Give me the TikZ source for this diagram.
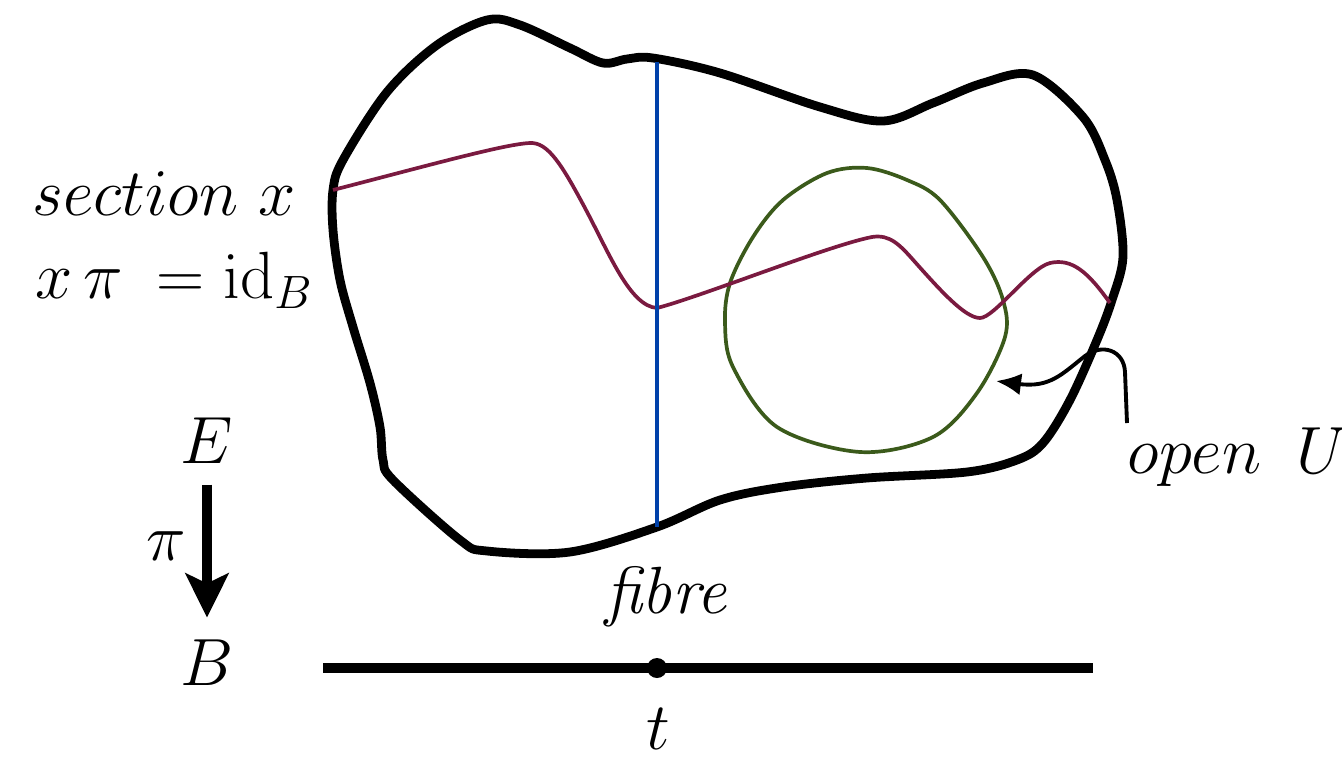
\RequirePackage{fix-cm}
\documentclass[tikz,border=0pt]{standalone}
\usetikzlibrary{arrows.meta}
\definecolor{sectcol}{RGB}{122,26,64}
\definecolor{fibcol}{RGB}{0,65,170}
\definecolor{opencol}{RGB}{59,90,27}
\begin{document}
\begin{tikzpicture}[x=0.01cm,y=-0.01cm,
  lbl/.style={font=\fontsize{19}{23}\selectfont, inner sep=0pt},
  blob/.style={line width=2.5pt, line join=round},
  sect/.style={sectcol, line width=1.05pt, line join=round},
  fib/.style={fibcol, line width=0.95pt},
  openset/.style={opencol, line width=1.05pt},
  base/.style={line width=2.85pt},
  piarr/.style={line width=2.85pt, -{Stealth[length=0.44cm, width=0.43cm, inset=0.1cm]}},
  uarr/.style={line width=1.1pt, -{Latex[length=0.25cm, width=0.22cm]}}]
\useasboundingbox (0,0) rectangle (1342,757);

% total space E
\draw[blob] plot[smooth cycle, tension=0.55] coordinates {
  (333,190) (343,160) (387,92) (437,45) (487,20) (520,25) (570,48) (603,63)
  (627,59) (653,58) (720,73) (820,107) (883,121) (933,103) (983,83)
  (1033,75) (1083,117) (1105,160) (1117,200) (1123,257) (1112,300)
  (1097,340) (1070,400) (1043,443) (1017,460) (967,472) (867,478)
  (783,487) (720,500) (657,527) (570,552) (487,551) (460,540) (393,480)
  (383,460) (380,427) (370,383) (353,327) (340,280) (333,230)};

% open set U
\draw[openset] plot[smooth cycle, tension=0.55] coordinates {
  (867,168) (827,173) (783,200) (753,237) (730,283) (725,323) (733,367)
  (777,427) (860,452) (933,437) (977,393) (1005,337) (1003,300)
  (983,257) (940,200) (907,180)};

% section
\coordinate (secstart) at (333,190);
\coordinate (secend) at (1110,303);
\draw[sect] (secstart) .. controls (430,165) and (505,144) .. (530,143)
  .. controls (548,142) and (562,165) .. (585,208)
  .. controls (610,255) and (630,306) .. (657,308)
  .. controls (700,297) and (830,245) .. (872,237)
  .. controls (890,234) and (900,245) .. (915,262)
  .. controls (940,290) and (965,318) .. (980,318)
  .. controls (994,318) and (1030,268) .. (1050,263)
  .. controls (1072,258) and (1088,272) .. (secend);

% fibre
\coordinate (fibtop) at (657,62);
\coordinate (fibbot) at (657,527);
\draw[fib] (fibtop) -- (fibbot);

% base B
\coordinate (b1) at (323,668);
\coordinate (b2) at (1093,668);
\draw[base] (b1) -- (b2);
\coordinate (tpt) at (657,668);
\fill (tpt) circle (10);

% labels
\node[lbl, anchor=base west] (seclbl) at (32,215) {$section\ x$};
\node[lbl, anchor=base west] (eqlbl) at (35,298) {$x\,\pi\:= \mathrm{id}_B$};
\node[lbl] (E) at (207,441) {$E$};
\node[lbl] (B) at (207,663) {$B$};
\node[lbl] (pilbl) at (166,546) {$\pi$};
\node[lbl, anchor=base] (fibrelbl) at (666,613) {\textit{fibre}};
\node[lbl, anchor=base] (tlbl) at (658,749) {$t$};
\node[lbl, anchor=base west] (Ulbl) at (1127,473) {$open\ \:U$};

% projection arrow
\draw[piarr, shorten <=0.2cm, shorten >=0.22cm] (E) -- (B);

% arrow to U
\coordinate (Ustart) at (1127,423);
\coordinate (Uend) at (996,381);
\draw[uarr] (Ustart) -- (1125,372) .. controls (1124,350) and (1102,343) .. (1085,356)
  .. controls (1062,374) and (1050,388) .. (Uend);
\end{tikzpicture}
\end{document}
